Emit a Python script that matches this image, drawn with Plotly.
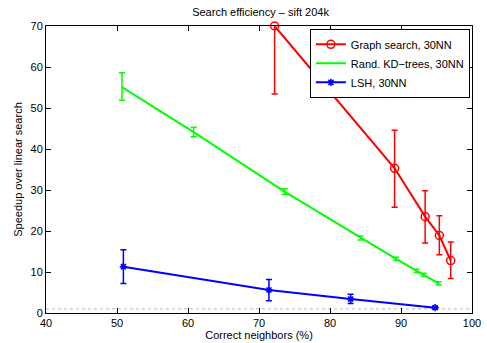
import plotly.graph_objects as go

# Graph search, 30NN
graph_x = [72.2, 89.1, 93.4, 95.4, 97.0]
graph_y = [70.0, 35.3, 23.5, 18.9, 12.8]
graph_err_up = [16.6, 9.3, 6.3, 4.8, 4.5]
graph_err_dn = [16.6, 9.5, 6.4, 4.7, 4.4]

# Randomized KD-trees, 30NN
kd_x = [50.7, 60.8, 73.6, 84.3, 89.3, 92.2, 93.2, 95.3]
kd_y = [55.1, 44.1, 29.6, 18.3, 13.2, 10.3, 9.3, 7.2]
kd_err_up = [3.5, 1.2, 0.7, 0.5, 0.4, 0.4, 0.4, 0.4]
kd_err_dn = [3.2, 1.1, 0.7, 0.5, 0.4, 0.4, 0.4, 0.4]

# LSH, 30NN
lsh_x = [50.9, 71.4, 82.9, 94.8]
lsh_y = [11.3, 5.6, 3.4, 1.3]
lsh_err_up = [4.1, 2.6, 1.2, 0.2]
lsh_err_dn = [4.1, 2.6, 1.1, 0.2]

x_ticks = [40, 50, 60, 70, 80, 90, 100]
y_ticks = [0, 10, 20, 30, 40, 50, 60, 70]
baseline = 1

FONT = "Liberation Sans, Arial, Helvetica, sans-serif"

fig = go.Figure()


def add_series(x, y, up, dn, color, name, symbol, msize):
    fig.add_trace(go.Scatter(
        x=x, y=y, name=name,
        mode="lines+markers" if symbol else "lines",
        line=dict(color=color, width=2),
        marker=dict(symbol=symbol or "circle", size=msize, color=color,
                    line=dict(color=color, width=1.5)),
        error_y=dict(type="data", symmetric=False, array=up, arrayminus=dn,
                     color=color, thickness=1.5, width=3),
        cliponaxis=False,
    ))


add_series(graph_x, graph_y, graph_err_up, graph_err_dn, "#ff0000",
           "Graph search, 30NN", "circle-open", 8)
add_series(kd_x, kd_y, kd_err_up, kd_err_dn, "#00ff00",
           "Rand. KD\u2212trees, 30NN", None, 0)
add_series(lsh_x, lsh_y, lsh_err_up, lsh_err_dn, "#0000ff",
           "LSH, 30NN", "asterisk-open", 6)

# speedup = 1 reference line
fig.add_shape(type="line", xref="x", yref="y", x0=x_ticks[0], x1=x_ticks[-1],
              y0=baseline, y1=baseline,
              line=dict(color="#bbbbbb", width=1, dash="dot"), layer="below")

axis_common = dict(
    showgrid=False, zeroline=False, showline=True, linecolor="black",
    linewidth=1, mirror="ticks", ticks="inside", ticklen=5,
    tickcolor="black", tickfont=dict(family=FONT, size=11, color="black"),
    automargin=False,
)

fig.update_layout(
    width=487, height=343,
    margin=dict(l=46, r=15, t=26, b=30),
    paper_bgcolor="white", plot_bgcolor="white",
    font=dict(family=FONT, size=11, color="black"),
    title=dict(text="Search efficiency \u2013 sift 204k", x=0.535, xanchor="center",
               y=1 - 12 / 343, yref="container", yanchor="middle",
               font=dict(family=FONT, size=11)),
    xaxis=dict(range=[x_ticks[0], x_ticks[-1]], tickvals=x_ticks,
               title=dict(text="Correct neighbors (%)", standoff=1,
                          font=dict(family=FONT, size=11)),
               **axis_common),
    yaxis=dict(range=[y_ticks[0], y_ticks[-1]], tickvals=y_ticks,
               title=dict(text="Speedup over linear search", standoff=5,
                          font=dict(family=FONT, size=11)),
               **axis_common),
    legend=dict(x=0.995, y=0.99, xanchor="right", yanchor="top",
                bgcolor="white", bordercolor="black", borderwidth=1,
                font=dict(family=FONT, size=11), tracegroupgap=0,
                itemwidth=30),
    showlegend=True,
)

fig.write_html("out.html")
